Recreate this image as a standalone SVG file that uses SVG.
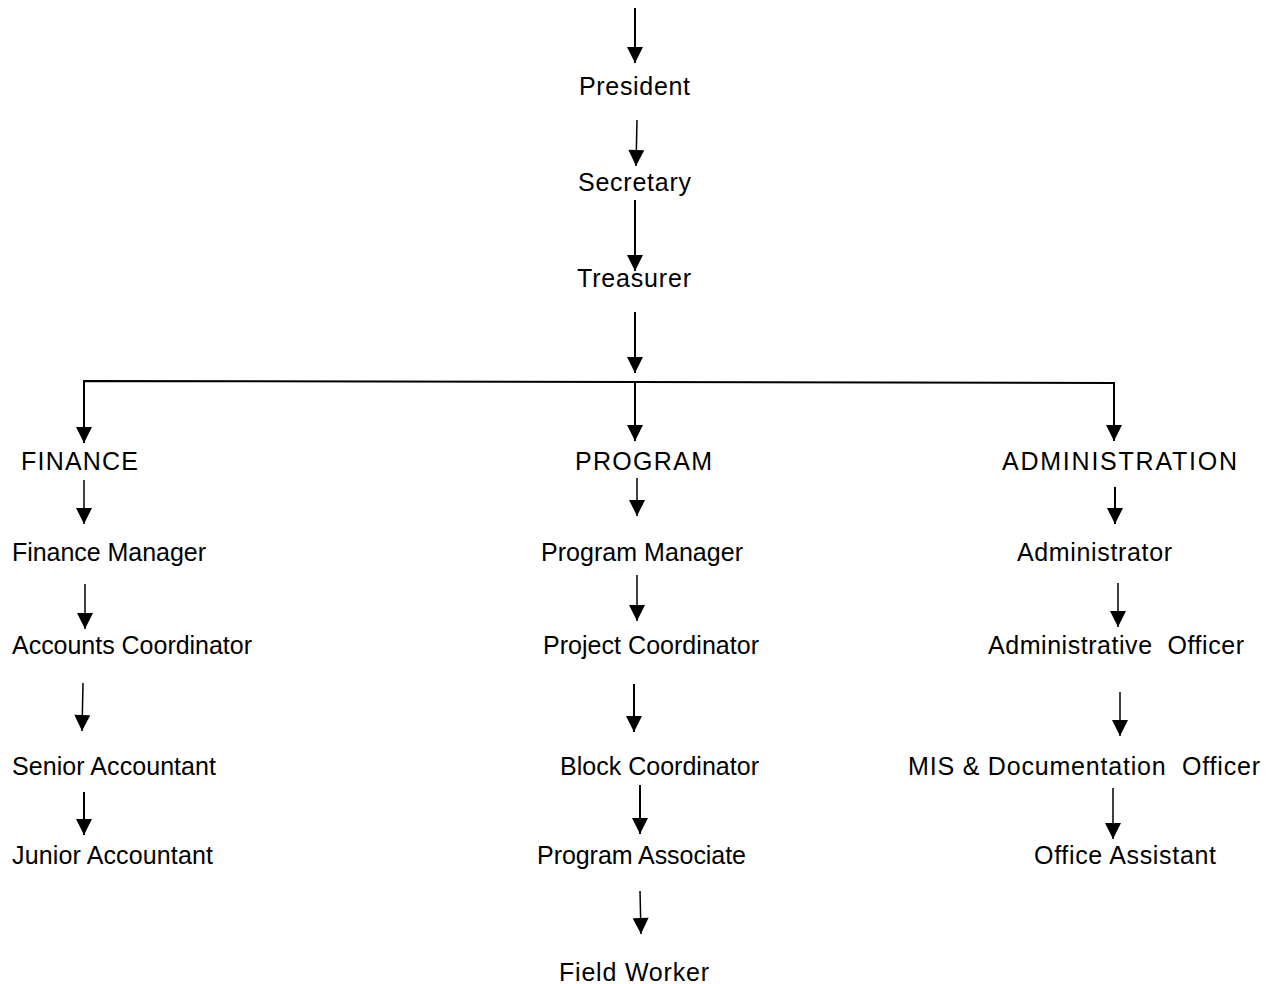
<svg xmlns="http://www.w3.org/2000/svg" width="1271" height="984" viewBox="0 0 1271 984">
<defs>
<marker id="ah" viewBox="0 0 16 16" refX="16" refY="8" markerWidth="17" markerHeight="16" markerUnits="userSpaceOnUse" orient="auto">
<path d="M0,0 L16,8 L0,16 z" fill="#000"/>
</marker>
</defs>
<style>
text{font-family:"Liberation Sans",Arial,sans-serif;font-size:25px;fill:#000;white-space:pre}
.c line,.c polyline{stroke:#000;stroke-width:2;fill:none}
.c .a{marker-end:url(#ah)}
.c .t{stroke-width:1.5}
</style>
<rect width="1271" height="984" fill="#fff"/>
<g class="c" id="connectors">
<line class="a" x1="635" y1="8" x2="635" y2="63"/>
<line class="a t" x1="637" y1="120" x2="636" y2="166"/>
<line class="a" x1="635" y1="200" x2="635" y2="271"/>
<line class="a" x1="635" y1="312" x2="635" y2="373"/>
<polyline points="84,443 84,381 1114,383 1114,441"/>
<line class="a" x1="84" y1="400" x2="84" y2="443"/>
<line class="a" x1="1114" y1="400" x2="1114" y2="441"/>
<line class="a" x1="635" y1="381" x2="635" y2="441"/>
<line class="a t" x1="84" y1="480" x2="84" y2="524"/>
<line class="a t" x1="637" y1="478" x2="637" y2="516"/>
<line class="a" x1="1115" y1="487" x2="1115" y2="524"/>
<line class="a t" x1="85" y1="584" x2="85" y2="629"/>
<line class="a t" x1="637" y1="575" x2="637" y2="621"/>
<line class="a t" x1="1118" y1="583" x2="1118" y2="627"/>
<line class="a t" x1="83" y1="683" x2="82" y2="731"/>
<line class="a" x1="634" y1="684" x2="634" y2="732"/>
<line class="a t" x1="1120" y1="692" x2="1120" y2="736"/>
<line class="a" x1="84" y1="792" x2="84" y2="835"/>
<line class="a" x1="640" y1="785" x2="640" y2="834"/>
<line class="a t" x1="1113" y1="788" x2="1113" y2="839"/>
<line class="a t" x1="640" y1="891" x2="641" y2="934"/>
</g>
<g id="president"><text x="579" y="95" textLength="111" lengthAdjust="spacing">President</text></g>
<g id="secretary"><text x="578" y="191" textLength="113" lengthAdjust="spacing">Secretary</text></g>
<g id="treasurer"><text x="577" y="287" textLength="114" lengthAdjust="spacing">Treasurer</text></g>
<g id="finance"><text x="21" y="470" textLength="117" lengthAdjust="spacing">FINANCE</text></g>
<g id="program"><text x="575" y="470" textLength="137" lengthAdjust="spacing">PROGRAM</text></g>
<g id="administration"><text x="1002" y="470" textLength="235" lengthAdjust="spacing">ADMINISTRATION</text></g>
<g id="finance-manager"><text x="12" y="561" textLength="194" lengthAdjust="spacing">Finance Manager</text></g>
<g id="program-manager"><text x="541" y="561" textLength="202" lengthAdjust="spacing">Program Manager</text></g>
<g id="administrator"><text x="1017" y="561" textLength="155" lengthAdjust="spacing">Administrator</text></g>
<g id="accounts-coordinator"><text x="12" y="654" textLength="240" lengthAdjust="spacing">Accounts Coordinator</text></g>
<g id="project-coordinator"><text x="543" y="654" textLength="216" lengthAdjust="spacing">Project Coordinator</text></g>
<g id="administrative-officer"><text x="988" y="654" textLength="256" lengthAdjust="spacing">Administrative  Officer</text></g>
<g id="senior-accountant"><text x="12" y="775" textLength="204" lengthAdjust="spacing">Senior Accountant</text></g>
<g id="block-coordinator"><text x="560" y="775" textLength="199" lengthAdjust="spacing">Block Coordinator</text></g>
<g id="mis-officer"><text x="908" y="775" textLength="352" lengthAdjust="spacing">MIS &amp; Documentation  Officer</text></g>
<g id="junior-accountant"><text x="12" y="864" textLength="201" lengthAdjust="spacing">Junior Accountant</text></g>
<g id="program-associate"><text x="537" y="864" textLength="209" lengthAdjust="spacing">Program Associate</text></g>
<g id="office-assistant"><text x="1034" y="864" textLength="182" lengthAdjust="spacing">Office Assistant</text></g>
<g id="field-worker"><text x="559" y="981" textLength="150" lengthAdjust="spacing">Field Worker</text></g>
</svg>
